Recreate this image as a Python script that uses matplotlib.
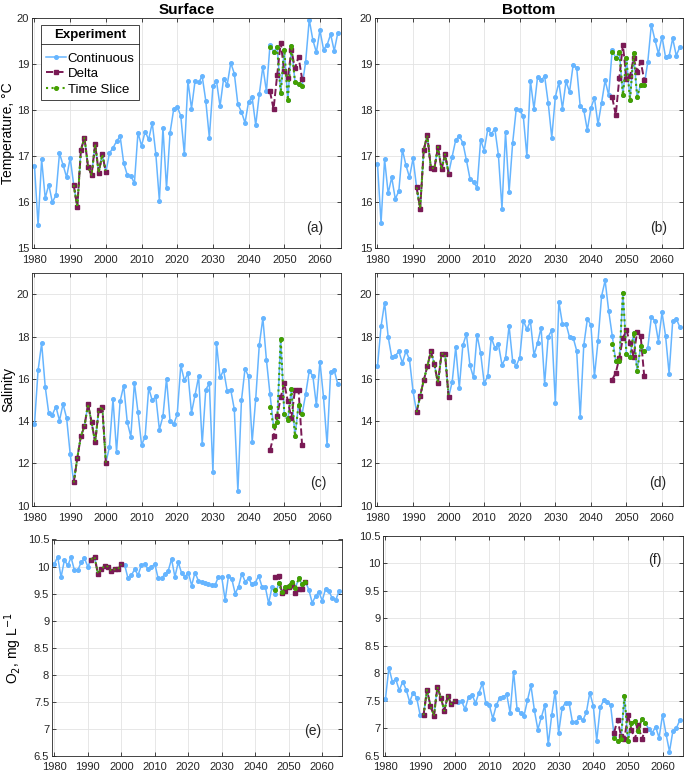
import numpy as np
import matplotlib
matplotlib.use('Agg')
import matplotlib.pyplot as plt
from matplotlib.lines import Line2D

plt.rcParams['font.family'] = ['Liberation Sans', 'DejaVu Sans']

years = np.arange(1980, 2066)
hist_years = np.arange(1991, 2001)
fut_years = np.arange(2046, 2056)

# (a) surface temperature
temp_surf = np.array([
    16.78, 15.50, 16.93, 16.09, 16.38, 16.00, 16.15, 17.06, 16.81, 16.54,
    16.96, 16.37, 15.89, 17.13, 17.40, 16.77, 16.59, 17.26, 16.64, 17.04,
    16.65, 17.06, 17.18, 17.32, 17.43, 16.85, 16.59, 16.57, 16.41, 17.51,
    17.22, 17.53, 17.36, 17.72, 17.05, 16.03, 17.61, 16.30, 17.51, 18.01,
    18.07, 17.87, 17.04, 18.63, 18.03, 18.63, 18.60, 18.73, 18.20, 17.40,
    18.51, 18.63, 18.08, 18.68, 18.54, 19.02, 18.79, 18.12, 17.96, 17.72,
    18.18, 18.27, 17.67, 18.34, 18.94, 18.40, 19.41, 19.26, 19.36, 18.36,
    19.31, 18.21, 19.39, 18.61, 18.56, 18.52, 19.05, 19.96, 19.52, 19.25,
    19.73, 19.31, 19.41, 19.64, 19.28, 19.67])
temp_surf_delta = [18.40, 18.02, 18.75, 19.46, 18.84, 18.70, 19.30, 18.90, 19.15, 18.67]
temp_surf_slice = [19.36, 19.26, 19.36, 18.36, 19.31, 18.21, 19.39, 18.61, 18.56, 18.52]

# (b) bottom temperature
temp_bot = np.array([
    16.83, 15.55, 16.93, 16.19, 16.54, 16.07, 16.24, 17.14, 16.80, 16.54,
    16.95, 16.32, 15.86, 17.13, 17.45, 16.75, 16.73, 17.20, 16.71, 17.04,
    16.62, 16.99, 17.35, 17.43, 17.29, 16.91, 16.51, 16.44, 16.31, 17.35,
    17.12, 17.58, 17.48, 17.59, 17.02, 15.86, 17.52, 16.22, 17.28, 18.01,
    17.99, 17.86, 17.00, 18.63, 18.02, 18.71, 18.64, 18.73, 18.15, 17.40,
    18.28, 18.60, 18.03, 18.62, 18.39, 18.97, 18.92, 18.08, 18.00, 17.56,
    18.04, 18.26, 17.69, 18.15, 18.64, 18.32, 19.31, 19.12, 19.26, 18.32,
    19.12, 18.21, 19.23, 18.29, 18.54, 18.54, 19.04, 19.85, 19.52, 19.22,
    19.59, 19.14, 19.17, 19.55, 19.18, 19.36])
temp_bot_delta = [18.27, 17.89, 18.70, 19.41, 18.68, 18.73, 19.12, 18.83, 19.05, 18.65]
temp_bot_slice = [19.26, 19.12, 19.26, 18.32, 19.12, 18.21, 19.23, 18.29, 18.54, 18.54]

# (c) surface salinity
sal_surf = np.array([
    13.87, 16.40, 17.69, 15.64, 14.37, 14.31, 14.69, 14.03, 14.81, 14.15,
    12.45, 11.10, 12.26, 13.29, 13.76, 14.81, 13.95, 13.00, 14.53, 14.69,
    12.03, 12.78, 15.05, 12.56, 14.95, 15.68, 13.95, 13.27, 15.82, 14.43,
    12.88, 13.25, 15.57, 14.98, 15.17, 13.60, 14.23, 16.02, 13.99, 13.85,
    14.32, 16.64, 15.93, 16.27, 14.40, 15.24, 16.12, 12.91, 15.49, 15.79,
    11.60, 17.70, 16.07, 16.41, 15.44, 15.49, 14.56, 10.68, 14.98, 16.48,
    16.12, 13.02, 15.06, 17.61, 18.88, 16.90, 15.28, 13.76, 13.96, 17.91,
    14.36, 14.04, 15.52, 13.29, 14.78, 14.34, 15.28, 16.38, 16.15, 14.75,
    16.82, 15.13, 12.89, 16.35, 16.41, 15.75])
sal_surf_delta = [12.62, 13.29, 14.23, 15.13, 15.80, 14.94, 14.15, 15.49, 15.49, 12.85]
sal_surf_slice = [14.65, 13.76, 13.96, 17.91, 14.36, 14.04, 15.52, 13.29, 14.78, 14.34]

# (d) bottom salinity
sal_bot = np.array([
    16.59, 18.49, 19.61, 18.00, 17.03, 17.09, 17.30, 16.76, 17.31, 16.92,
    15.41, 14.43, 15.20, 15.93, 16.59, 17.30, 16.70, 15.80, 17.19, 17.19,
    15.14, 15.86, 17.50, 15.57, 17.59, 18.13, 16.64, 16.07, 18.08, 17.22,
    15.80, 16.12, 17.96, 17.47, 17.64, 16.67, 16.98, 18.51, 16.86, 16.62,
    17.01, 18.76, 18.36, 18.73, 17.14, 17.69, 18.43, 15.77, 18.00, 18.30,
    14.86, 19.65, 18.60, 18.62, 17.97, 17.96, 17.34, 14.21, 17.59, 18.82,
    18.57, 16.12, 17.79, 19.91, 20.66, 19.23, 18.05, 16.84, 16.84, 20.08,
    17.19, 17.03, 18.16, 16.37, 17.56, 17.30, 17.47, 18.93, 18.76, 17.77,
    19.15, 18.03, 16.24, 18.74, 18.85, 18.46])
sal_bot_delta = [15.97, 16.28, 17.01, 17.92, 18.32, 17.69, 17.06, 18.24, 18.03, 16.12]
sal_bot_slice = [17.64, 16.84, 16.84, 20.08, 17.19, 17.03, 18.16, 16.37, 17.56, 17.30]

# (e) surface oxygen
o2_surf = np.array([
    10.05, 10.18, 9.80, 10.12, 10.02, 10.17, 9.93, 9.93, 10.08, 10.15,
    10.00, 10.13, 10.18, 9.87, 9.95, 10.01, 10.00, 9.92, 9.95, 9.95,
    10.04, 10.03, 9.78, 9.84, 9.95, 9.84, 10.03, 10.05, 9.95, 9.99,
    10.05, 9.78, 9.78, 9.86, 9.92, 10.14, 9.81, 10.08, 9.88, 9.81,
    9.89, 9.65, 9.89, 9.74, 9.72, 9.70, 9.67, 9.66, 9.66, 9.81,
    9.80, 9.38, 9.83, 9.77, 9.50, 9.63, 9.87, 9.72, 9.78, 9.67,
    9.70, 9.83, 9.63, 9.62, 9.32, 9.62, 9.49, 9.69, 9.53, 9.63,
    9.65, 9.72, 9.61, 9.78, 9.67, 9.72, 9.57, 9.33, 9.45, 9.53,
    9.37, 9.59, 9.55, 9.41, 9.38, 9.54])
o2_surf_delta = [9.80, 9.82, 9.51, 9.55, 9.63, 9.66, 9.51, 9.59, 9.59, 9.72]
o2_surf_slice = [9.57, 9.69, 9.53, 9.63, 9.65, 9.72, 9.61, 9.78, 9.67, 9.72]

# (f) bottom oxygen
o2_bot = np.array([
    7.53, 8.10, 7.85, 7.89, 7.69, 7.85, 7.70, 7.48, 7.65, 7.56,
    7.25, 7.24, 7.70, 7.41, 7.23, 7.75, 7.56, 7.32, 7.59, 7.44,
    7.50, 7.48, 7.49, 7.35, 7.57, 7.61, 7.46, 7.65, 7.82, 7.46,
    7.42, 7.18, 7.42, 7.56, 7.57, 7.62, 7.28, 8.03, 7.35, 7.28,
    7.23, 7.51, 7.78, 7.33, 6.98, 7.20, 7.42, 6.71, 7.24, 7.67,
    6.92, 7.37, 7.47, 7.47, 7.11, 7.12, 7.20, 7.15, 7.29, 7.65,
    7.41, 6.78, 7.38, 7.51, 7.48, 7.42, 6.87, 6.77, 6.81, 7.59,
    6.78, 7.09, 7.14, 6.95, 7.18, 7.10, 6.99, 6.92, 7.03, 6.83,
    7.25, 6.90, 6.58, 6.96, 7.01, 7.15])
o2_bot_delta = [6.92, 7.16, 6.87, 6.81, 7.25, 6.98, 6.80, 7.07, 6.80, 6.98]
o2_bot_slice = [6.83, 6.77, 6.81, 7.59, 6.78, 7.09, 7.14, 6.95, 7.18, 7.10]

c_cont = '#66b5ff'
c_delta = '#7a1a55'
c_slice = '#45a000'

W, H = 685, 774
fig = plt.figure(figsize=(W / 100, H / 100), dpi=100)


def make_ax(left, right, top, bottom):
    return fig.add_axes([left / W, 1 - bottom / H, (right - left) / W, (bottom - top) / H])


def draw(ax, cont, delta_fut, slice_fut, ylim, yticks, ylabels, letter, lpos, xpad=5):
    hist = (years >= 1991) & (years <= 2000)
    ax.plot(years, cont, '-', color=c_cont, lw=1.1, marker='o', ms=2.6,
            label='Continuous', zorder=2)
    # historic period: delta markers end up on top, like the original
    ax.plot(hist_years, cont[hist], ':', color=c_slice, lw=1.5, marker='o', ms=2.6,
            label='Time Slice', zorder=3)
    ax.plot(hist_years, cont[hist], '--', color=c_delta, lw=1.4, marker='s', ms=3.0,
            label='Delta', zorder=4)
    ax.plot(hist_years, cont[hist], ':', color=c_slice, lw=1.3, zorder=5)
    # future period: time slice on top
    ax.plot(fut_years, delta_fut, '--', color=c_delta, lw=1.4, marker='s', ms=3.0, zorder=3)
    ax.plot(fut_years, slice_fut, ':', color=c_slice, lw=1.5, marker='o', ms=2.6, zorder=4)
    ax.set_xlim(1979.3, 2065.9)
    ax.set_ylim(*ylim)
    ax.set_xticks(np.arange(1980, 2061, 10))
    ax.set_yticks(yticks)
    ax.set_yticklabels(ylabels)
    ax.grid(True, color='#e3e3e3', lw=0.6)
    ax.set_axisbelow(True)
    ax.tick_params(direction='in', length=3, width=0.6, labelsize=8,
                   top=True, right=True, colors='#262626')
    ax.tick_params(axis='x', pad=xpad)
    ax.tick_params(axis='y', pad=2)
    for s in ax.spines.values():
        s.set_color('#262626')
        s.set_linewidth(0.6)
    ax.text(lpos[0], lpos[1], letter, transform=ax.transAxes, ha='center',
            va='center', fontsize=10, color='#262626')


t_ticks = [15, 16, 17, 18, 19, 20]
t_labels = ['15', '16', '17', '18', '19', '20']
s_ticks = [10, 12, 14, 16, 18, 20]
s_labels = ['10', '12', '14', '16', '18', '20']
o_ticks = [6.5, 7, 7.5, 8, 8.5, 9, 9.5, 10, 10.5]
o_labels = ['6.5', '7', '7.5', '8', '8.5', '9', '9.5', '10', '10.5']

ax_a = make_ax(32, 341, 17.7, 248.3)
ax_b = make_ax(375, 683, 17.7, 248.3)
ax_c = make_ax(32, 341, 273.3, 505.7)
ax_d = make_ax(375, 683, 273.3, 505.7)
ax_e = make_ax(52, 342, 539.5, 756)
ax_f = make_ax(383, 683, 535.5, 756)

draw(ax_a, temp_surf, temp_surf_delta, temp_surf_slice, (15, 20), t_ticks, t_labels, '(a)', (0.916, 0.088))
draw(ax_b, temp_bot, temp_bot_delta, temp_bot_slice, (15, 20), t_ticks, t_labels, '(b)', (0.922, 0.088))
draw(ax_c, sal_surf, sal_surf_delta, sal_surf_slice, (10, 21), s_ticks, s_labels, '(c)', (0.925, 0.099))
draw(ax_d, sal_bot, sal_bot_delta, sal_bot_slice, (10, 21), s_ticks, s_labels, '(d)', (0.919, 0.099))
draw(ax_e, o2_surf, o2_surf_delta, o2_surf_slice, (6.5, 10.5), o_ticks, o_labels, '(e)', (0.90, 0.115), xpad=4.5)
draw(ax_f, o2_bot, o2_bot_delta, o2_bot_slice, (6.5, 10.5), o_ticks, o_labels, '(f)', (0.907, 0.89), xpad=4.5)

ax_a.set_title('Surface', fontsize=11, fontweight='bold', pad=3)
ax_b.set_title('Bottom', fontsize=11, fontweight='bold', pad=3)
ax_a.set_ylabel('Temperature, \u00b0C', fontsize=10, labelpad=1)
ax_c.set_ylabel('Salinity', fontsize=10, labelpad=1)
ax_e.set_ylabel('O$_2$, mg L$^{-1}$', fontsize=10, labelpad=3)

h, l = ax_a.get_legend_handles_labels()
leg = ax_a.legend([h[0], h[2], h[1]], ['Continuous', 'Delta', 'Time Slice'],
                  title='Experiment', loc='upper left', bbox_to_anchor=(0.03, 0.97),
                  fontsize=9.5, title_fontproperties={'weight': 'bold', 'size': 9.5},
                  frameon=True, fancybox=False, edgecolor='#262626', framealpha=1,
                  handlelength=1.5, handletextpad=0.15, borderpad=0.35,
                  labelspacing=0.25, borderaxespad=0)
leg.get_frame().set_linewidth(0.6)
leg._legend_box.sep = 8

# separator line under legend title
fig.canvas.draw()
bb = leg.get_window_extent()
tb = leg.get_title().get_window_extent()
ysep = (tb.y0 - 3) / H
fig.add_artist(Line2D([bb.x0 / W, bb.x1 / W], [ysep, ysep], color='#262626', lw=0.6))

plt.savefig('out.png', dpi=100)
